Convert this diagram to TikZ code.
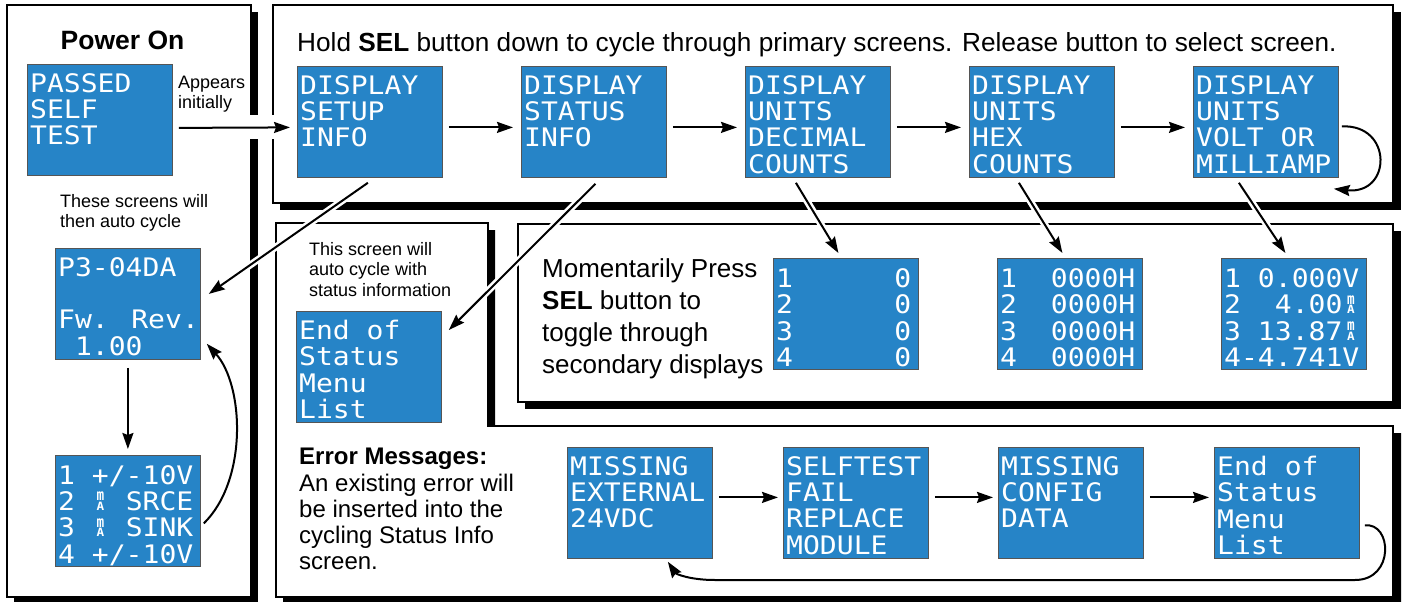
\documentclass[tikz,border=0pt]{standalone}
\usepackage{fontspec}
\setmainfont{Liberation Sans}
\newfontfamily\lcdfont[FakeStretch=1.1]{DejaVu Sans Mono}
\usetikzlibrary{arrows.meta,calc}
\definecolor{lcdblue}{RGB}{38,132,199}
\definecolor{lcdedge}{RGB}{85,85,85}
\newlength\lcdw
\newcommand\mA{\settowidth{\lcdw}{0}\makebox[\lcdw][c]{\bfseries\fontsize{11.5}{11.5}\selectfont\makebox[0pt][c]{\raisebox{9.6pt}{\scalebox{1}[1.35]{m}}}\makebox[0pt][c]{A}}}
\begin{document}
\begin{tikzpicture}[x=1pt,y=-1pt,
  panel/.style={fill=white,draw=black,line width=1.6pt},
  shadowfill/.style={fill=black},
  screen/.style={rectangle,anchor=north west,fill=lcdblue,draw=lcdedge,line width=0.8pt,minimum width=145pt,minimum height=111pt,inner sep=0pt},
  lcdtext/.style={anchor=north west,inner sep=0pt,align=left,text=white,font=\lcdfont\fontsize{25.5}{26.3}\selectfont},
  lbl/.style={anchor=north west,inner sep=0pt,align=left,text=black},
  arr/.style={line width=2pt,-{Stealth[length=16pt,width=11pt,inset=2pt]}},
  halo/.style={draw=white,line width=7pt}
]
\useasboundingbox (0,0) rectangle (1402,602);

% ---------- panels ----------
\fill[shadowfill] (14,12) rectangle (258,604);
\draw[panel] (7,5) rectangle (251,597);
\fill[shadowfill] (280,12) rectangle (1401,210);
\draw[panel] (273,5) rectangle (1393,203);
\fill[shadowfill] (283,230) -- (495,230) -- (495,433) -- (1401,433) -- (1401,604) -- (283,604) -- cycle;
\draw[panel] (276,223) -- (488,223) -- (488,426) -- (1393,426) -- (1393,597) -- (276,597) -- cycle;
\fill[shadowfill] (525,231) rectangle (1401,409);
\draw[panel] (518,224) rectangle (1393,402);

% ---------- labels ----------
\node[lbl,font=\bfseries\fontsize{26.5}{30}\selectfont,anchor=base] (pwr) at (122.5,50) {Power On};
\node[lbl,font=\fontsize{18}{20}\selectfont] (app) at (178,76) {Appears\\initially};
\node[lbl,font=\fontsize{18}{20}\selectfont] (auto1) at (60,194) {These screens will\\then auto cycle};
\node[lbl,font=\fontsize{26.2}{30}\selectfont,anchor=base west] (hdr) at (297,52) {Hold \textbf{SEL} button down to cycle through primary screens. Release button to select screen.};
\node[lbl,font=\fontsize{18}{20.5}\selectfont] (stat) at (309,242) {This screen will\\auto cycle with\\status information};
\node[lbl,font=\fontsize{26}{32}\selectfont] (mom) at (542,258) {Momentarily Press\\\textbf{SEL} button to\\toggle through\\secondary displays};
\node[lbl,font=\fontsize{24}{26.3}\selectfont] (err) at (299,448) {\textbf{Error Messages:}\\An existing error will\\be inserted into the\\cycling Status Info\\screen.};

% ---------- screens ----------
\node[screen] (s0) at (27,64) {};
\node[lcdtext] (s0x) at ([shift={(3,9)}]s0.north west) {PASSED\\SELF\\TEST};
\node[screen] (p3) at (55,248) {};
\node[lcdtext] (p3x) at ([shift={(3,9)}]p3.north west) {P3-04DA\\\mbox{}\\Fw. Rev.\\\hphantom{0}1.00};
\node[screen] (ch) at (55,455) {};
\node[lcdtext] (chx) at ([shift={(3,10)}]ch.north west) {1 +/-10V\\2 \mA{} SRCE\\3 \mA{} SINK\\4 +/-10V};

\node[screen] (t1) at (297,66) {};
\node[lcdtext] (t1x) at ([shift={(3,9)}]t1.north west) {DISPLAY\\SETUP\\INFO};
\node[screen] (t2) at (521,66) {};
\node[lcdtext] (t2x) at ([shift={(3,9)}]t2.north west) {DISPLAY\\STATUS\\INFO};
\node[screen] (t3) at (745,66) {};
\node[lcdtext] (t3x) at ([shift={(3,9)}]t3.north west) {DISPLAY\\UNITS\\DECIMAL\\COUNTS};
\node[screen] (t4) at (969,66) {};
\node[lcdtext] (t4x) at ([shift={(3,9)}]t4.north west) {DISPLAY\\UNITS\\HEX\\COUNTS};
\node[screen] (t5) at (1193,66) {};
\node[lcdtext] (t5x) at ([shift={(3,9)}]t5.north west) {DISPLAY\\UNITS\\VOLT OR\\MILLIAMP};

\node[screen] (eos) at (296,311) {};
\node[lcdtext] (eosx) at ([shift={(3,9)}]eos.north west) {End of\\Status\\Menu\\List};

\node[screen] (a1) at (773,258) {};
\node[lcdtext] (a1x) at ([shift={(3,10.5)}]a1.north west) {1\hphantom{000000}0\\2\hphantom{000000}0\\3\hphantom{000000}0\\4\hphantom{000000}0};
\node[screen] (a2) at (997,258) {};
\node[lcdtext] (a2x) at ([shift={(3,10.5)}]a2.north west) {1\hphantom{00}0000H\\2\hphantom{00}0000H\\3\hphantom{00}0000H\\4\hphantom{00}0000H};
\node[screen] (a3) at (1221,258) {};
\node[lcdtext] (a3x) at ([shift={(3,10.5)}]a3.north west) {1 0.000V\\2\hphantom{00}4.00\mA\\3 13.87\mA\\4-4.741V};

\node[screen] (e1) at (567,447) {};
\node[lcdtext] (e1x) at ([shift={(3,9)}]e1.north west) {MISSING\\EXTERNAL\\24VDC};
\node[screen] (e2) at (783,447) {};
\node[lcdtext] (e2x) at ([shift={(3,9)}]e2.north west) {SELFTEST\\FAIL\\REPLACE\\MODULE};
\node[screen] (e3) at (998,447) {};
\node[lcdtext] (e3x) at ([shift={(3,9)}]e3.north west) {MISSING\\CONFIG\\DATA};
\node[screen] (e4) at (1214,447) {};
\node[lcdtext] (e4x) at ([shift={(3,9)}]e4.north west) {End of\\Status\\Menu\\List};

% ---------- connectors ----------
\fill[white] (244,115) rectangle (281,139);
\draw[arr] ([shift={(6,8)}]s0.east) -- ([shift={(-7,5.5)}]t1.west);
\draw[arr] ([shift={(6,5.5)}]t1.east) -- ([shift={(-8,5.5)}]t2.west);
\draw[arr] ([shift={(6,5.5)}]t2.east) -- ([shift={(-8,5.5)}]t3.west);
\draw[arr] ([shift={(6,5.5)}]t3.east) -- ([shift={(-8,5.5)}]t4.west);
\draw[arr] ([shift={(6,5.5)}]t4.east) -- ([shift={(-8,5.5)}]t5.west);
\draw[arr] ([shift={(3,4.5)}]t5.east) .. controls (1393,124) and (1392,195) .. ([shift={(-5,11)}]t5.south east);

\draw[halo,shorten >=14pt] ([shift={(-2,5)}]t1.south) -- ([shift={(8,-10)}]p3.east);
\draw[arr] ([shift={(-2,5)}]t1.south) -- ([shift={(8,-10)}]p3.east);
\draw[halo,shorten >=14pt] ([shift={(1.5,6)}]t2.south) -- ([shift={(7,19)}]eos.north east);
\draw[arr] ([shift={(1.5,6)}]t2.south) -- ([shift={(7,19)}]eos.north east);
\draw[halo,shorten >=14pt] ([shift={(-22,5)}]t3.south) -- ([shift={(-7.5,-5)}]a1.north);
\draw[arr] ([shift={(-22,5)}]t3.south) -- ([shift={(-7.5,-5)}]a1.north);
\draw[halo,shorten >=14pt] ([shift={(-23,5)}]t4.south) -- ([shift={(-7.5,-5)}]a2.north);
\draw[arr] ([shift={(-23,5)}]t4.south) -- ([shift={(-7.5,-5)}]a2.north);
\draw[halo,shorten >=14pt] ([shift={(-27,5)}]t5.south) -- ([shift={(-8.5,-5)}]a3.north);
\draw[arr] ([shift={(-27,5)}]t5.south) -- ([shift={(-8.5,-5)}]a3.north);

\draw[arr] ([shift={(0,8)}]p3.south) -- ([shift={(0,-6)}]ch.north);
\draw[arr] ([shift={(3,12.5)}]ch.east) .. controls (248,480) and (244,385) .. ([shift={(6,-16)}]p3.south east);

\draw[arr] ([shift={(6,-5.5)}]e1.east) -- ([shift={(-5,-5.5)}]e2.west);
\draw[arr] ([shift={(6,-5.5)}]e2.east) -- ([shift={(-5,-5.5)}]e3.west);
\draw[arr] ([shift={(6,-5.5)}]e3.east) -- ([shift={(-5,-5.5)}]e4.west);
\coordinate (ret) at (1355,580);
\draw[arr] ([shift={(5,22.5)}]e4.east) .. controls (1392,522) and (1395,580) .. (ret) -- (715,580) .. controls (690,580) and (676,574) .. ([shift={(28,3)}]e1.south);
\end{tikzpicture}
\end{document}
